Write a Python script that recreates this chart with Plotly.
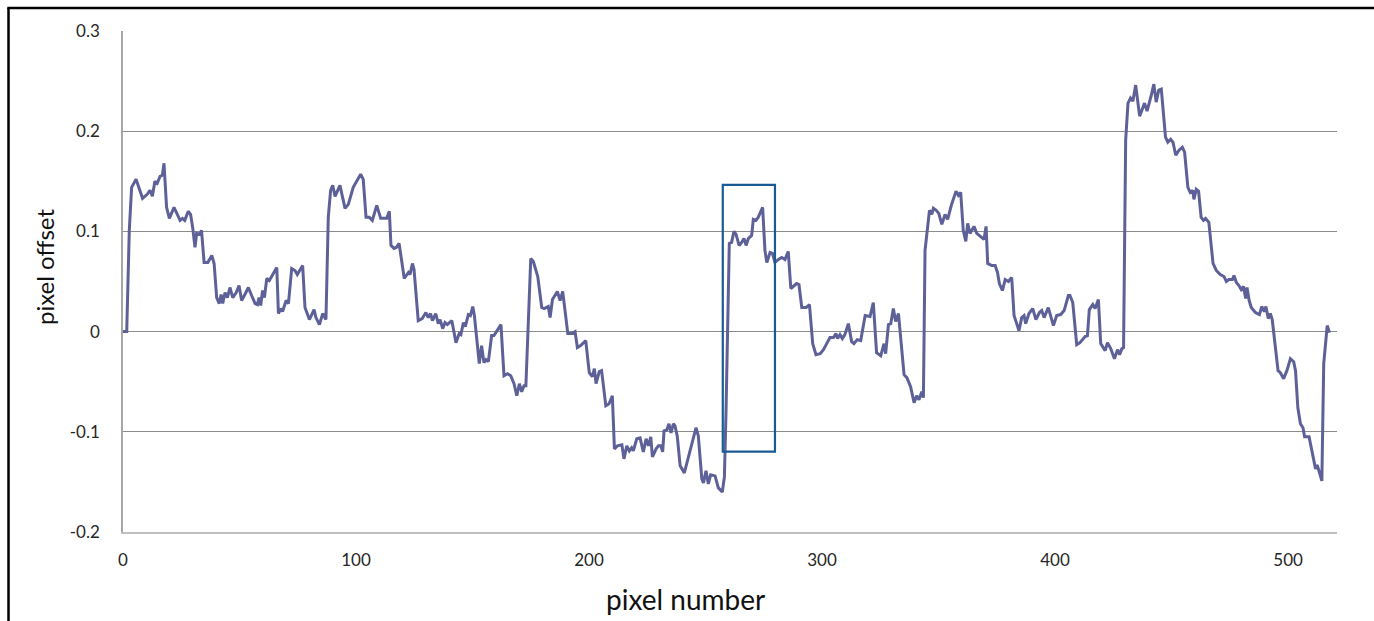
import plotly.graph_objects as go

# ---- data ----
pixel_number = [
    0, 1.6, 2.7, 3.7, 5.6, 8.4, 10.4, 11.6, 12.6, 13.7, 14.7, 15.9, 16.9, 17.6, 18.7, 19.9, 21.9, 24.5, 25.5, 26.5,
    28.0, 29.0, 29.9, 30.9, 31.6, 32.8, 33.7, 34.8, 36.4, 38.1, 39.1, 40.2, 41.3, 42.1, 42.8, 43.8, 44.8, 45.9, 47.1, 48.6,
    49.8, 50.9, 52.3, 53.8, 55.2, 56.7, 57.7, 58.4, 59.1, 59.9, 60.7, 61.7, 62.8, 66.0, 66.7, 67.7, 68.5, 70.0, 71.0, 72.4,
    73.8, 74.8, 77.1, 78.1, 80.0, 82.0, 82.8, 84.3, 85.7, 87.1, 88.1, 89.1, 90.0, 91.0, 93.1, 95.3, 96.7, 98.8, 102.0, 103.1,
    104.3, 105.7, 107.0, 108.9, 110.6, 113.2, 114.3, 115.0, 116.3, 117.3, 118.5, 120.7, 122.5, 123.2, 124.2, 124.9, 126.7, 128.4, 130.0, 131.0,
    132.0, 132.8, 134.2, 135.3, 136.1, 137.2, 138.2, 139.2, 141.1, 142.9, 144.3, 145.0, 146.1, 146.9, 148.2, 149.1, 150.1, 150.8, 152.9, 153.9,
    154.9, 155.8, 156.8, 158.2, 159.2, 160.4, 162.2, 163.5, 165.0, 166.4, 167.8, 169.0, 170.1, 171.1, 172.1, 172.9, 175.0, 176.1, 178.0, 179.7,
    180.7, 182.5, 183.3, 184.3, 186.4, 187.6, 188.7, 190.9, 192.6, 194.0, 195.0, 196.4, 198.6, 200.1, 201.4, 202.3, 203.0, 204.4, 205.4, 207.2,
    208.6, 210.0, 210.9, 212.2, 214.1, 215.0, 216.2, 217.3, 218.3, 219.0, 220.5, 221.9, 223.3, 224.5, 225.5, 226.5, 227.2, 228.8, 229.8, 230.8,
    231.6, 232.2, 233.4, 234.3, 235.2, 236.2, 236.9, 237.9, 239.1, 240.9, 243.4, 245.9, 246.9, 248.4, 249.1, 250.2, 251.2, 252.2, 254.1, 255.5,
    257.2, 258.1, 258.8, 259.4, 260.2, 261.2, 262.2, 263.1, 264.4, 265.5, 266.5, 267.4, 268.4, 269.8, 270.5, 271.6, 272.6, 274.5, 275.5, 276.3,
    277.7, 278.7, 279.8, 281.3, 282.7, 284.1, 285.5, 286.6, 287.7, 289.1, 290.1, 291.3, 293.2, 294.6, 296.0, 297.4, 299.2, 300.6, 302.0, 303.4,
    304.9, 306.0, 306.7, 307.7, 308.7, 309.8, 311.3, 312.7, 313.7, 315.1, 316.6, 318.5, 320.6, 322.0, 323.4, 325.2, 326.6, 327.3, 328.5, 329.5,
    330.6, 331.6, 332.8, 335.2, 336.4, 338.0, 339.5, 340.6, 341.6, 342.8, 343.5, 344.2, 345.2, 346.1, 347.1, 347.8, 349.0, 350.1, 351.4, 352.8,
    353.9, 355.6, 357.5, 358.5, 359.5, 360.6, 361.7, 362.5, 363.5, 365.2, 366.4, 367.8, 369.5, 370.4, 371.1, 372.8, 374.3, 375.3, 376.1, 377.4,
    378.6, 380.0, 381.4, 382.4, 383.6, 384.5, 385.7, 386.7, 387.4, 388.8, 390.4, 391.8, 393.3, 394.3, 395.3, 397.1, 399.3, 400.7, 402.4, 403.9,
    405.7, 406.4, 407.6, 409.3, 410.7, 412.9, 413.9, 414.7, 416.2, 417.2, 418.6, 419.6, 421.5, 422.5, 423.9, 425.5, 426.8, 427.7, 428.7, 429.4,
    430.3, 431.3, 432.4, 433.4, 434.6, 436.3, 438.4, 439.5, 441.3, 442.4, 443.4, 444.5, 445.6, 446.6, 447.4, 448.4, 449.6, 450.6, 451.8, 453.2,
    454.6, 455.6, 457.0, 458.0, 459.1, 459.6, 460.6, 461.6, 462.7, 463.7, 464.6, 466.0, 467.8, 469.2, 470.9, 472.5, 473.5, 474.6, 476.1, 476.8,
    477.8, 478.9, 479.9, 480.9, 481.8, 482.4, 483.3, 484.2, 486.0, 487.7, 488.7, 489.8, 490.5, 491.5, 492.4, 493.2, 494.2, 495.7, 496.7, 498.1,
    499.5, 501.0, 502.4, 503.2, 504.2, 505.3, 506.4, 507.1, 509.0, 510.4, 511.8, 512.5, 513.8, 514.5, 515.3, 516.1, 516.8, 517.8,
]
pixel_offset = [
    0.000, 0.000, 0.101, 0.144, 0.152, 0.133, 0.137, 0.141, 0.135, 0.150, 0.148, 0.155, 0.156, 0.168, 0.124, 0.113, 0.124, 0.111, 0.113, 0.111,
    0.120, 0.117, 0.104, 0.084, 0.098, 0.097, 0.101, 0.069, 0.069, 0.076, 0.068, 0.034, 0.028, 0.037, 0.028, 0.039, 0.034, 0.044, 0.034, 0.039,
    0.046, 0.031, 0.037, 0.044, 0.036, 0.028, 0.027, 0.034, 0.026, 0.041, 0.034, 0.053, 0.051, 0.064, 0.018, 0.023, 0.020, 0.031, 0.028, 0.063,
    0.061, 0.057, 0.066, 0.024, 0.012, 0.022, 0.014, 0.007, 0.018, 0.012, 0.114, 0.141, 0.146, 0.135, 0.146, 0.123, 0.127, 0.144, 0.157, 0.152,
    0.114, 0.114, 0.111, 0.126, 0.113, 0.113, 0.120, 0.086, 0.083, 0.084, 0.088, 0.053, 0.059, 0.057, 0.068, 0.062, 0.011, 0.013, 0.019, 0.014,
    0.018, 0.011, 0.018, 0.008, 0.012, 0.003, 0.009, 0.007, 0.011, -0.011, -0.002, -0.003, 0.009, 0.005, 0.017, 0.016, 0.025, 0.016, -0.032, -0.014,
    -0.031, -0.028, -0.030, -0.004, -0.004, 0.000, 0.007, -0.044, -0.042, -0.044, -0.052, -0.064, -0.052, -0.060, -0.054, -0.054, 0.073, 0.070, 0.055, 0.024,
    0.023, 0.025, 0.014, 0.032, 0.040, 0.031, 0.040, -0.002, -0.002, 0.000, -0.016, -0.014, -0.009, -0.041, -0.045, -0.037, -0.052, -0.040, -0.039, -0.074,
    -0.072, -0.064, -0.117, -0.114, -0.113, -0.127, -0.114, -0.119, -0.116, -0.119, -0.107, -0.106, -0.120, -0.107, -0.114, -0.105, -0.125, -0.117, -0.114, -0.114,
    -0.120, -0.099, -0.098, -0.092, -0.101, -0.092, -0.094, -0.105, -0.134, -0.141, -0.119, -0.096, -0.104, -0.147, -0.151, -0.139, -0.152, -0.143, -0.144, -0.156,
    -0.160, -0.145, -0.079, 0.008, 0.088, 0.089, 0.100, 0.097, 0.086, 0.089, 0.093, 0.086, 0.093, 0.096, 0.112, 0.111, 0.114, 0.124, 0.081, 0.069,
    0.079, 0.078, 0.069, 0.072, 0.074, 0.072, 0.080, 0.043, 0.045, 0.048, 0.047, 0.024, 0.024, 0.027, -0.012, -0.023, -0.022, -0.018, -0.012, -0.006,
    -0.006, -0.002, -0.007, -0.003, -0.007, -0.003, 0.008, -0.010, -0.012, -0.008, -0.009, 0.016, 0.015, 0.029, -0.021, -0.024, -0.012, -0.022, 0.007, 0.008,
    0.023, 0.010, 0.018, -0.043, -0.046, -0.055, -0.071, -0.064, -0.068, -0.060, -0.066, 0.081, 0.102, 0.121, 0.117, 0.123, 0.121, 0.118, 0.107, 0.117,
    0.112, 0.127, 0.140, 0.136, 0.139, 0.101, 0.090, 0.108, 0.098, 0.105, 0.098, 0.095, 0.092, 0.105, 0.068, 0.066, 0.066, 0.059, 0.048, 0.041,
    0.052, 0.050, 0.054, 0.016, 0.006, 0.001, 0.014, 0.016, 0.008, 0.018, 0.023, 0.012, 0.019, 0.021, 0.014, 0.024, 0.006, 0.016, 0.017, 0.021,
    0.036, 0.036, 0.029, -0.013, -0.011, -0.005, -0.004, 0.022, 0.027, 0.023, 0.032, -0.012, -0.019, -0.011, -0.017, -0.027, -0.018, -0.023, -0.017, -0.016,
    0.191, 0.228, 0.233, 0.230, 0.246, 0.215, 0.228, 0.220, 0.236, 0.247, 0.229, 0.241, 0.242, 0.211, 0.194, 0.189, 0.192, 0.189, 0.176, 0.181,
    0.184, 0.179, 0.144, 0.139, 0.141, 0.132, 0.142, 0.140, 0.114, 0.111, 0.113, 0.109, 0.068, 0.061, 0.057, 0.055, 0.050, 0.052, 0.052, 0.056,
    0.049, 0.046, 0.042, 0.045, 0.033, 0.044, 0.031, 0.024, 0.019, 0.017, 0.025, 0.020, 0.025, 0.013, 0.018, 0.012, -0.009, -0.039, -0.041, -0.047,
    -0.039, -0.027, -0.030, -0.039, -0.076, -0.092, -0.096, -0.105, -0.105, -0.122, -0.137, -0.133, -0.144, -0.149, -0.032, -0.012, 0.006, -0.001,
]

y_tick_values = [0.3, 0.2, 0.1, 0.0, -0.1, -0.2]
y_tick_labels = ["0.3", "0.2", "0.1", "0", "-0.1", "-0.2"]
x_tick_values = [0, 100, 200, 300, 400, 500]
x_tick_labels = ["0", "100", "200", "300", "400", "500"]
x_range = [0, 521]
y_range = [-0.2, 0.3]

# highlighted region (data units)
highlight_x = [257.4, 279.8]
highlight_y = [-0.1198, 0.1464]

x_title = "pixel number"
y_title = "pixel offset"

W, H = 1374, 621
L, R, T, B = 123, 37, 31, 89
pw, ph = W - L - R, H - T - B

def px_x(p):
    return (p - L) / pw

def px_y(p):
    return (H - B - p) / ph

fig = go.Figure()
fig.add_trace(go.Scatter(
    x=pixel_number, y=pixel_offset, mode="lines",
    line=dict(color="#5E6198", width=3),
    hoverinfo="x+y", showlegend=False,
))

fig.add_shape(type="rect", xref="x", yref="y",
              x0=highlight_x[0], x1=highlight_x[1], y0=highlight_y[0], y1=highlight_y[1],
              line=dict(color="#1A5A94", width=2.2), fillcolor="rgba(0,0,0,0)")

# outer frame (left and top edges visible in the reference)
fig.add_shape(type="line", xref="paper", yref="paper",
              x0=px_x(8.5), x1=px_x(8.5), y0=px_y(8), y1=px_y(625),
              line=dict(color="black", width=2.5))
fig.add_shape(type="line", xref="paper", yref="paper",
              x0=px_x(7.3), x1=px_x(1380), y0=px_y(8), y1=px_y(8),
              line=dict(color="black", width=2.5))

fig.add_annotation(text=x_title, xref="paper", yref="paper",
                   x=px_x(685), y=px_y(599), xanchor="center", yanchor="middle",
                   showarrow=False, font=dict(family="Lato", size=28, color="#111111"))
fig.add_annotation(text=y_title, xref="paper", yref="paper",
                   x=px_x(44), y=px_y(267), xanchor="center", yanchor="middle",
                   textangle=-90, showarrow=False,
                   font=dict(family="Lato", size=24, color="#111111"))

fig.update_layout(
    width=W, height=H,
    margin=dict(l=L, r=R, t=T, b=B, pad=0),
    paper_bgcolor="white", plot_bgcolor="white",
    font=dict(family="Lato", size=17, color="#262626"),
    xaxis=dict(range=x_range, tickvals=x_tick_values, ticktext=x_tick_labels,
               showgrid=False, zeroline=False, showline=True,
               linecolor="#BFBFBF", linewidth=2, ticks="",
               ticklabelstandoff=12, tickfont=dict(size=17, color="#262626")),
    yaxis=dict(range=y_range, tickvals=y_tick_values, ticktext=y_tick_labels,
               showgrid=True, gridcolor="#8C8C8C", gridwidth=1,
               zeroline=False, showline=True, linecolor="#A6A6A6", linewidth=1.5,
               ticks="", ticklabelstandoff=18, tickfont=dict(size=17, color="#262626")),
)

fig.write_html("out.html")
